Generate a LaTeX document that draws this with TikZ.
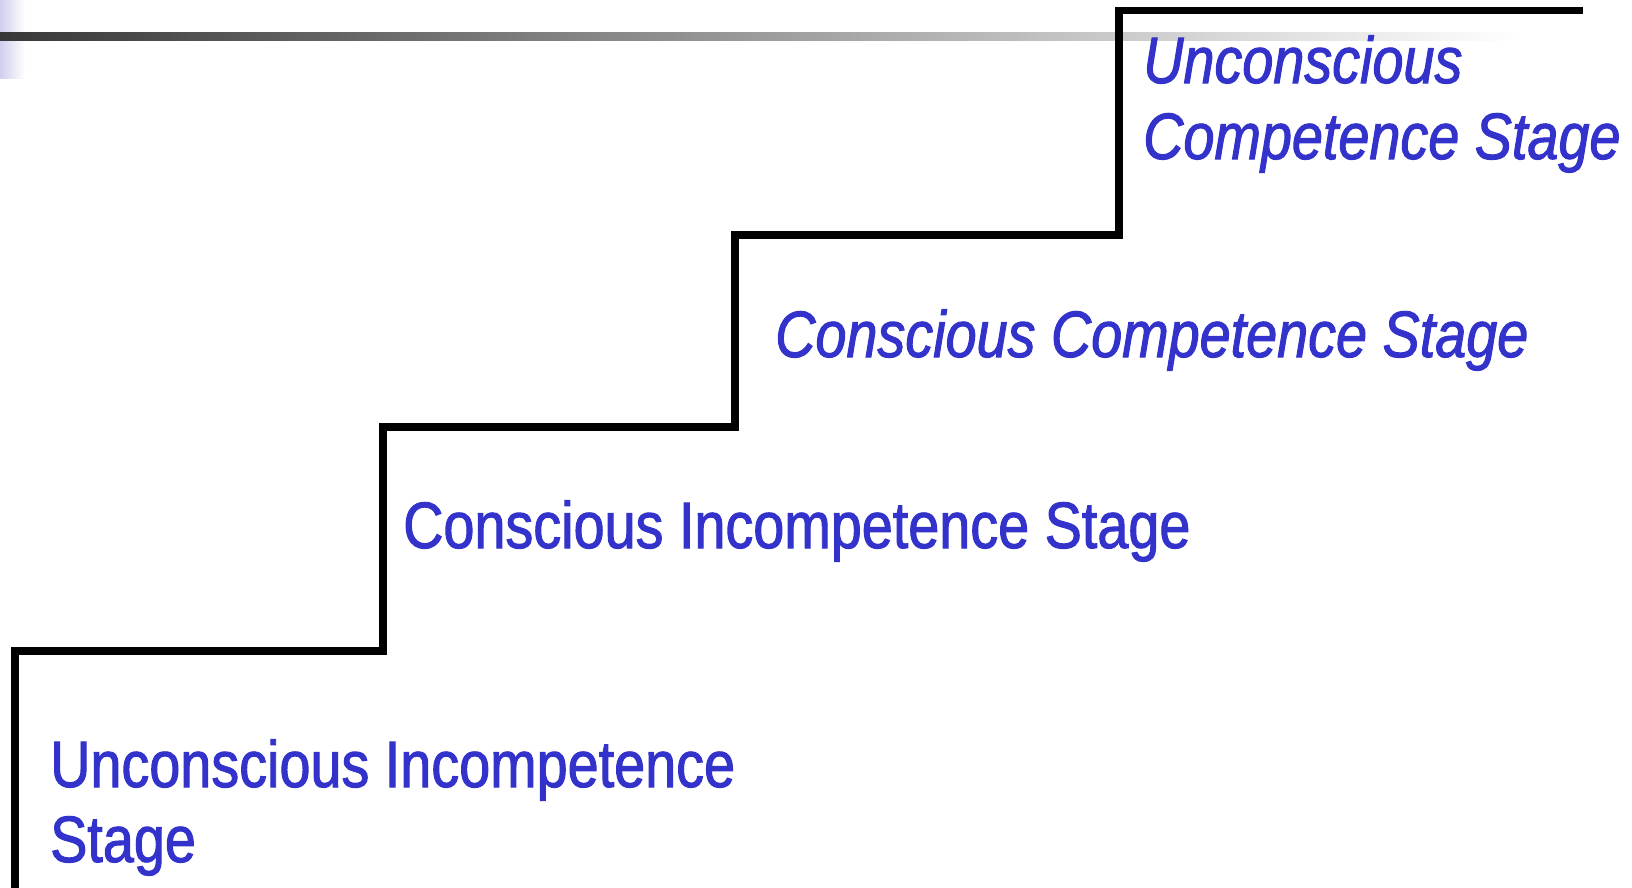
\documentclass[tikz,border=0pt]{standalone}
\usepackage{fontspec}
\newfontfamily\stagefont{Liberation Sans}[FakeStretch=0.85,FakeBold=1.5]
\definecolor{stageblue}{HTML}{3333CC}
\definecolor{bardark}{HTML}{383838}
\definecolor{lavender}{HTML}{CFCFEE}
\tikzset{
  stagetext/.style={font=\stagefont\fontsize{65.6}{75}\selectfont, text=stageblue, inner sep=0pt, anchor=base west, align=left},
  stair/.style={line width=7.5pt, black, line join=miter}
}
\begin{document}
\begin{tikzpicture}[x=1pt,y=-1pt]
\useasboundingbox (0,0) rectangle (1632,887);
% left lavender strip
\shade[left color=lavender, right color=white] (0,0) rectangle (25,78);
% gradient bar
\shade[left color=bardark, right color=white] (0,32) rectangle (1520,40);
% staircase
\coordinate (s0) at (15,890);
\coordinate (s1) at (15,651);
\coordinate (s2) at (383,651);
\coordinate (s3) at (383,427);
\coordinate (s4) at (735,427);
\coordinate (s5) at (735,235);
\coordinate (s6) at (1119,235);
\coordinate (s7) at (1119,10.5);
\coordinate (s8) at (1583,10.5);
\draw[stair] (s0) -- (s1) -- (s2) -- (s3) -- (s4) -- (s5) -- (s6) -- (s7) -- (s8);
% labels
\node[stagetext] (ui) at (50,862) {Unconscious Incompetence\\Stage};
\node[stagetext] (ci) at (403,548) {Conscious Incompetence Stage};
\node[stagetext, font=\stagefont\itshape\fontsize{65.6}{75}\selectfont] (cc) at (775,357) {Conscious Competence Stage};
\node[stagetext, font=\stagefont\itshape\fontsize{65.6}{76}\selectfont] (uc) at (1143,159) {Unconscious\\Competence Stage};
\end{tikzpicture}
\end{document}
